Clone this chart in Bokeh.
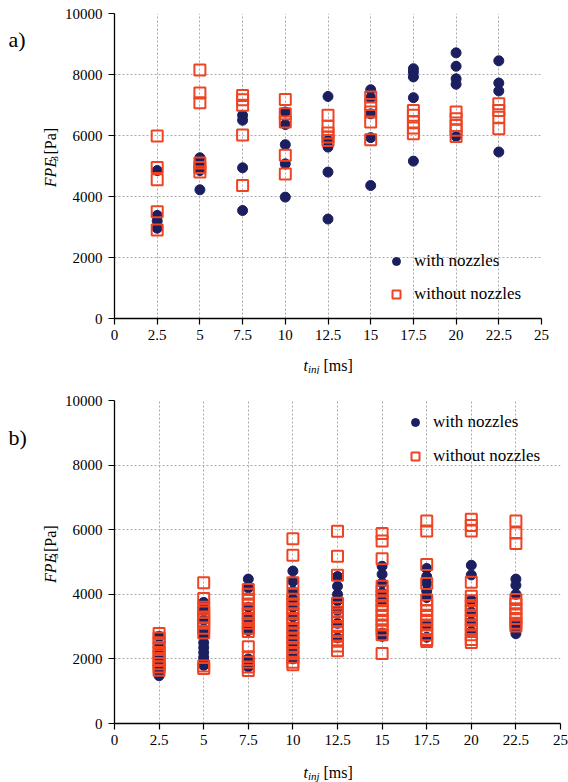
import math
from bokeh.plotting import figure
from bokeh.layouts import column, row
from bokeh.core.properties import value
from bokeh.models import (Legend, LegendItem, FixedTicker, Range1d,
                          CustomJSTickFormatter)
from bokeh.embed import file_html
from bokeh.resources import INLINE

# ---------------- data ----------------
t_inj = [2.5, 5, 7.5, 10, 12.5, 15, 17.5, 20, 22.5]
x_ticks = [0, 2.5, 5, 7.5, 10, 12.5, 15, 17.5, 20, 22.5, 25]
y_ticks = [0, 2000, 4000, 6000, 8000, 10000]

# panel a) FPE3 [Pa] per injection time
a_with = [
    [4850, 3380, 3200, 2960],
    [5270, 5070, 4850, 4220],
    [6660, 6500, 4940, 3540],
    [6770, 6360, 5700, 5070, 3980],
    [7280, 5840, 5620, 4800, 3260],
    [7500, 7240, 6710, 5930, 4360],
    [8190, 8080, 7920, 7240, 5160],
    [8710, 8270, 7860, 7680, 5970],
    [8450, 7720, 7460, 5460],
]
a_without = [
    [5980, 4950, 4550, 3500, 2900],
    [8150, 7390, 7070, 5100, 4950, 4800],
    [7310, 7170, 6990, 6020, 4360],
    [7180, 6710, 6440, 5350, 4740],
    [6660, 6300, 6080, 5950, 5840],
    [7260, 7020, 6770, 6440, 5860],
    [6820, 6660, 6440, 6250, 6060],
    [6770, 6550, 6330, 6170, 5970],
    [7040, 6820, 6600, 6220],
]

# panel b)
b_with = [
    [2700, 2450, 2200, 2000, 1800, 1620, 1480],
    [3750, 3500, 3200, 2900, 2700, 2500, 2350, 2200, 2050, 1950, 1850, 1800],
    [4470, 4200, 3600, 3250, 2880, 2000, 1850, 1750],
    [4720, 4400, 4100, 3850, 3600, 3300, 3000, 2800, 2600, 2400, 2200, 2000],
    [4550, 4250, 4000, 3800, 3500, 3100, 2650],
    [4870, 4620, 4350, 4050, 3800, 2800, 2700],
    [4800, 4550, 4340, 4100, 3900, 3050, 2670],
    [4900, 4600, 3820, 3450, 3150, 2850],
    [4470, 4280, 4000, 3100, 2950, 2780],
]
b_without = [
    [2790, 2650, 2500, 2350, 2200, 2100, 1950, 1850, 1750, 1650],
    [4355, 3870, 3600, 3450, 3300, 3200, 3100, 2950, 2800, 1780, 1700],
    [4150, 4000, 3850, 3700, 3550, 3400, 3250, 3100, 2950, 2850, 2380, 2070, 1900, 1750, 1640],
    [5720, 5210, 4355, 4000, 3850, 3700, 3550, 3400, 3250, 3100, 2950, 2800, 2650, 2500,
     2350, 2200, 2050, 1900, 1820],
    [5950, 5180, 4590, 3720, 3580, 3450, 3300, 3150, 3000, 2850, 2700, 2550, 2400, 2250],
    [5880, 5650, 5100, 4250, 4100, 3950, 3800, 3650, 3500, 3350, 3200, 3050, 2900, 2750, 2170],
    [6270, 5960, 4920, 4335, 3820, 3650, 3500, 3350, 3200, 3050, 2900, 2750, 2600, 2540],
    [6320, 6130, 5960, 4370, 3940, 3800, 3650, 3500, 3350, 3200, 3050, 2900, 2750, 2600, 2510],
    [6270, 5900, 5570, 3840, 3700, 3550, 3400, 3250, 3100, 3020],
]

series_labels = ["with nozzles", "without nozzles"]
x_title = ("t", "inj", "[ms]")
y_title = ("FPE", "3", "[Pa]")
panel_tags = ["a)", "b)"]

# ---------------- style ----------------
SERIF = "Liberation Serif"
NAVY = "#1b1f5f"
ORANGE = "#ef4423"
GRID = "#aaaaaa"
PAGE_W = 568
SIDE_W = 60


def flatten(groups):
    xs, ys = [], []
    for t, vals in zip(t_inj, groups):
        xs += [t] * len(vals)
        ys += vals
    return xs, ys


def blank(width, height):
    p = figure(width=width, height=height, output_backend="svg", toolbar_location=None,
               title=None, x_range=Range1d(0, width), y_range=Range1d(0, height),
               x_axis_type=None, y_axis_type=None, min_border=0,
               min_border_left=0, min_border_right=0, min_border_top=0,
               min_border_bottom=0)
    p.outline_line_color = None
    p.background_fill_color = "white"
    p.border_fill_color = "white"
    p.grid.visible = False
    return p


def txt(p, x, y, s, size, style="normal", angle=0.0):
    # y given from the top of the helper canvas
    p.text(x=[x], y=[p.height - y], text=[s], text_font=value(SERIF),
           text_font_size=value(size), text_font_style=style, angle=angle,
           text_align="left", text_baseline="alphabetic", text_color="black")


def side_fig(height, tag, tag_base, y0):
    p = blank(SIDE_W, height)
    txt(p, 8, tag_base, tag, "22px")
    ang = math.pi / 2
    txt(p, 50, y0, y_title[0], "16px", "italic", ang)
    txt(p, 54, y0 - 29, y_title[1], "11px", "normal", ang)
    txt(p, 50, y0 - 37, y_title[2], "16px", "normal", ang)
    return p


def xtitle_fig(height, base):
    p = blank(PAGE_W, height)
    txt(p, 303, base, x_title[0], "16px", "italic")
    txt(p, 307.5, base + 3, x_title[1], "11px", "italic")
    txt(p, 323, base, x_title[2], "16px")
    return p


def main_fig(with_vals, without_vals, height, b_top, b_bottom, b_right,
             legend_loc, legend_spacing):
    p = figure(width=PAGE_W - SIDE_W, height=height, output_backend="svg",
               toolbar_location=None, title=None,
               x_range=Range1d(0, 25), y_range=Range1d(0, 10000),
               min_border_left=114 - SIDE_W, min_border_right=b_right,
               min_border_top=b_top, min_border_bottom=b_bottom)
    p.outline_line_color = None
    p.background_fill_color = "white"
    p.border_fill_color = "white"

    for ax in (p.xaxis[0], p.yaxis[0]):
        ax.axis_line_color = "black"
        ax.axis_line_width = 1.3
        ax.major_tick_line_color = "black"
        ax.major_tick_line_width = 1.2
        ax.major_tick_out = 6
        ax.major_tick_in = 0
        ax.minor_tick_line_color = None
        ax.major_label_text_font = SERIF
        ax.major_label_text_font_size = "15px"
        ax.major_label_text_color = "black"
    p.xaxis[0].ticker = FixedTicker(ticks=x_ticks, minor_ticks=[])
    p.yaxis[0].ticker = FixedTicker(ticks=y_ticks, minor_ticks=[])
    p.xaxis[0].formatter = CustomJSTickFormatter(code="return String(tick)")
    p.xaxis[0].major_label_standoff = 5
    p.yaxis[0].major_label_standoff = 6

    for g in (p.xgrid[0], p.ygrid[0]):
        g.grid_line_color = GRID
        g.grid_line_dash = "2 2"
        g.grid_line_width = 1
    p.xgrid[0].ticker = FixedTicker(ticks=x_ticks, minor_ticks=[])
    p.ygrid[0].ticker = FixedTicker(ticks=y_ticks, minor_ticks=[])

    wx, wy = flatten(with_vals)
    ox, oy = flatten(without_vals)
    r1 = p.scatter(wx, wy, marker="circle", size=10, fill_color=NAVY,
                   line_color=NAVY, line_width=1)
    r2 = p.scatter(ox, oy, marker="square", size=11, fill_alpha=0,
                   line_color=ORANGE, line_width=2)

    legend = Legend(items=[LegendItem(label=series_labels[0], renderers=[r1]),
                           LegendItem(label=series_labels[1], renderers=[r2])],
                    location=legend_loc, orientation="vertical",
                    border_line_color=None, background_fill_alpha=0,
                    padding=10, margin=0, spacing=legend_spacing,
                    glyph_width=20, glyph_height=20, label_height=20,
                    label_standoff=8, label_text_font=SERIF,
                    label_text_font_size="17px", label_text_color="black")
    p.add_layout(legend)
    return p


# panel a: page y 0..374
ma = main_fig(a_with, a_without, height=346, b_top=13, b_bottom=28, b_right=27,
              legend_loc=(272, 14), legend_spacing=13)
sa = side_fig(346, panel_tags[0], 29, 197)
xa = xtitle_fig(28, 19)

# panel b: page y 374..782
mb = main_fig(b_with, b_without, height=386, b_top=26, b_bottom=37, b_right=8,
              legend_loc=(291, 257), legend_spacing=14)
sb = side_fig(386, panel_tags[1], 418 - 374, 592 - 374)
xb = xtitle_fig(22, 12)

layout = column(row(sa, ma, spacing=0), xa, row(sb, mb, spacing=0), xb, spacing=0)
open("out.html", "w").write(file_html(layout, INLINE))
